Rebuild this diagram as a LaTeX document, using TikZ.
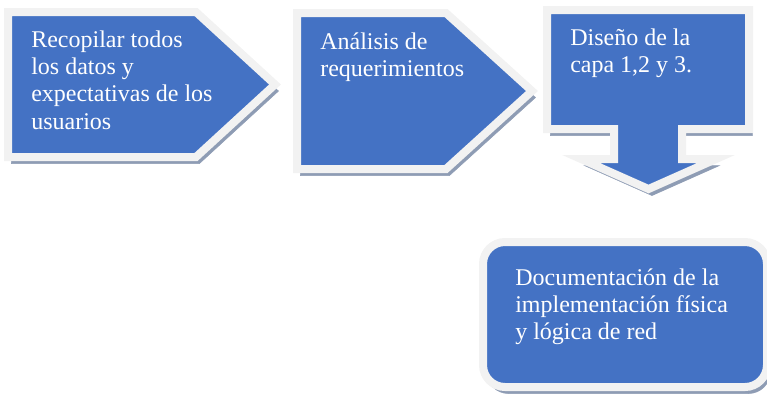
\documentclass[tikz,border=0pt]{standalone}
\usepackage{fontspec}
\setmainfont{Liberation Serif}
\usetikzlibrary{positioning}
\definecolor{boxblue}{RGB}{68,114,196}
\definecolor{boxrim}{RGB}{242,242,242}
\definecolor{shadowgrey}{RGB}{142,156,180}
\tikzset{
  stepshape/.style={fill=boxblue, draw=boxrim, line width=6pt,
    preaction={fill=shadowgrey, draw=shadowgrey, transform canvas={xshift=2.6pt,yshift=-4.9pt}}},
  boxtext/.style={anchor=base west, inner sep=0pt, text=white, font=\fontsize{18}{20.5}\selectfont}
}
\newcommand{\lines}[1]{\begin{tabular}[t]{@{}l@{}}#1\end{tabular}}

\begin{document}
\begin{tikzpicture}[x=0.75pt,y=-0.75pt]
\useasboundingbox (0,0) rectangle (767,394);
% first step
\draw[stepshape] (8,12) -- (196,12) -- (275,84.5) -- (196,157) -- (8,157) -- cycle;
% second step
\draw[stepshape] (297,13) -- (446,13) -- (532,91) -- (446,169) -- (297,169) -- cycle;
% third step, pointing down
\draw[stepshape] (547,10) -- (749,10) -- (749,129) -- (682,129) -- (682,159) -- (716,159)
  -- (648.5,189) -- (581,159) -- (614,159) -- (614,129) -- (547,129) -- cycle;
% last box
\draw[stepshape, rounded corners=16.5pt] (483,242) rectangle (767,387);
\node[boxtext] (recopilar) at (31,47) {\lines{Recopilar todos\\los datos y\\expectativas de los\\usuarios}};
\node[boxtext] (analisis) at (320,49) {\lines{Análisis de\\requerimientos}};
\node[boxtext] (diseno) at (570,45) {\lines{Diseño de la\\capa 1,2 y 3.}};
\node[boxtext] (documentacion) at (515,285) {\lines{Documentación de la\\implementación física\\y lógica de red}};
\end{tikzpicture}
\end{document}
